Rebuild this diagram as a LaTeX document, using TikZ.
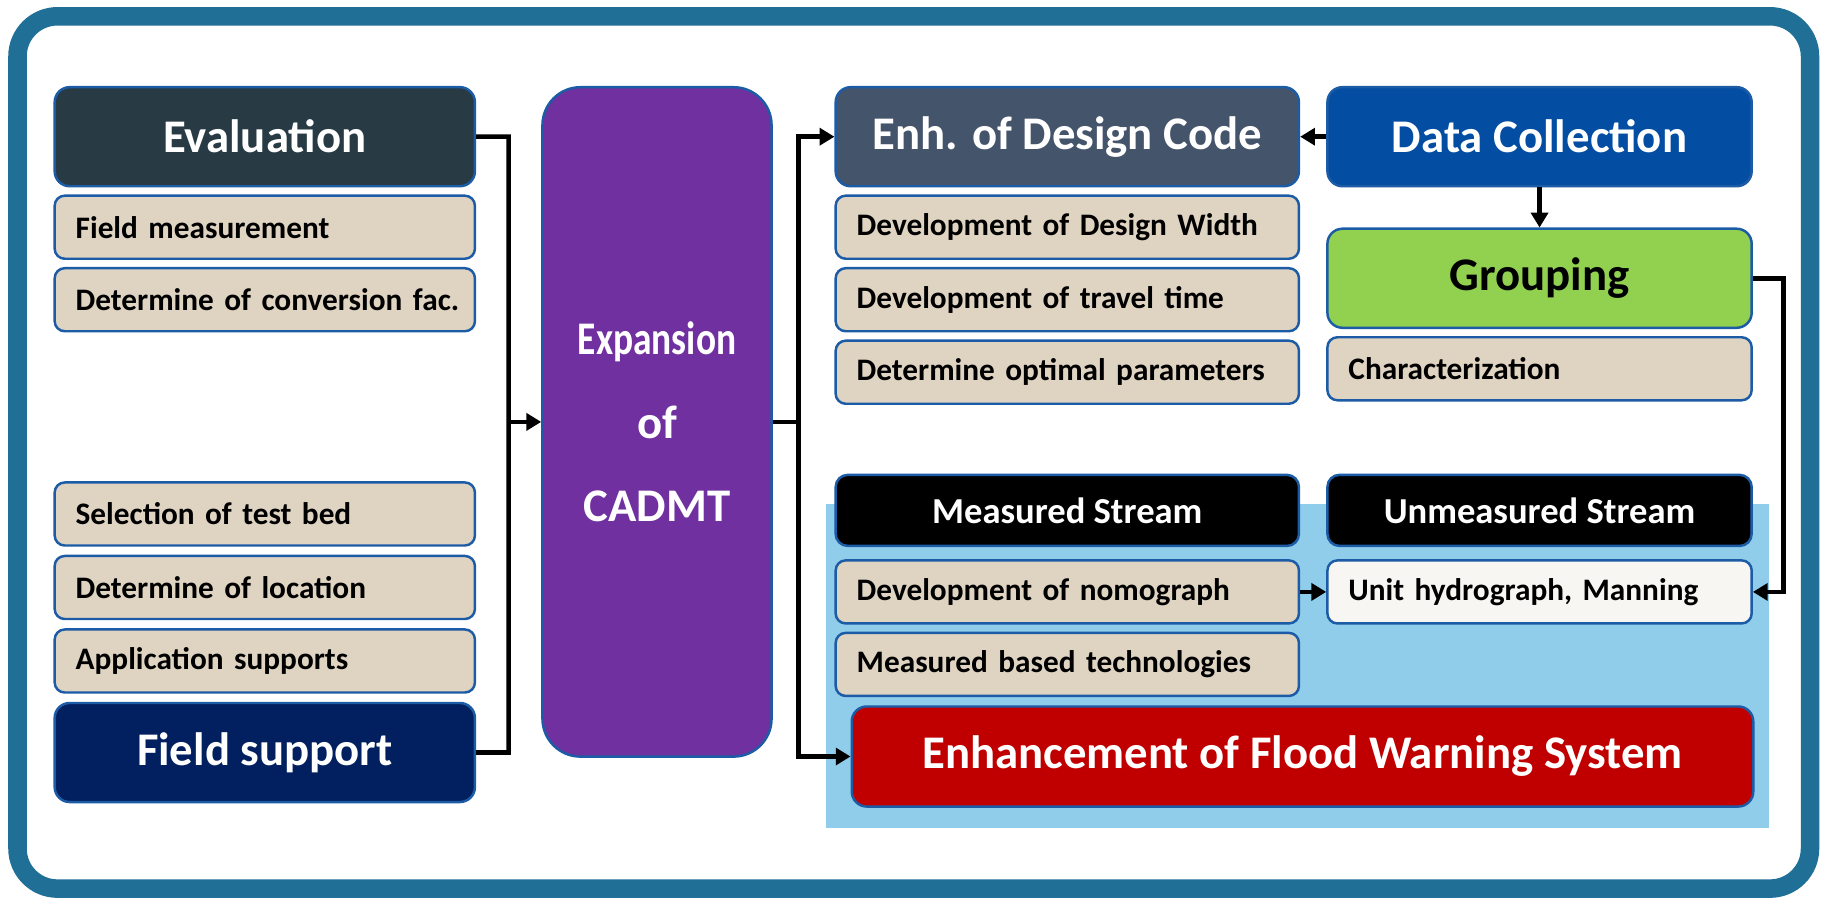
\documentclass[tikz,border=0pt]{standalone}
\usepackage{fontspec}
\setmainfont{Carlito}
\usepackage{graphicx}
\usetikzlibrary{positioning,calc,arrows.meta}

\definecolor{framecol}{HTML}{1F6F97}
\definecolor{boxline}{HTML}{1C5BA6}
\definecolor{beige}{HTML}{DFD3C2}
\definecolor{evalcol}{HTML}{283B45}
\definecolor{fieldcol}{HTML}{02205F}
\definecolor{expcol}{HTML}{7030A0}
\definecolor{designcol}{HTML}{44546A}
\definecolor{datacol}{HTML}{034EA2}
\definecolor{groupcol}{HTML}{92D050}
\definecolor{skyfill}{HTML}{8FCDEB}
\definecolor{offwhite}{HTML}{F7F6F2}
\definecolor{floodcol}{HTML}{C00000}

\begin{document}
\begin{tikzpicture}[x=0.01cm,y=-0.01cm,
  box/.style={draw=boxline,line width=0.7pt,rounded corners=0.1cm},
  hbox/.style={box,rounded corners=0.15cm,minimum height=0.99cm,text=white,font=\fontsize{13.3}{16}\selectfont\bfseries},
  ibox/.style={box,fill=beige,minimum height=0.63cm,text width=#1,inner xsep=0.1cm,align=left,
    font=\fontsize{8.9}{11}\selectfont\bfseries,execute at begin node={\hspace*{0.11cm}}},
  sbox/.style={box,rounded corners=0.12cm,fill=black,minimum height=0.71cm,text=white,font=\fontsize{10.4}{12}\selectfont\bfseries},
  conn/.style={line width=1.3pt},
  arr/.style={conn,-{Triangle[length=4.2pt,width=4.8pt]}}]
  \useasboundingbox (0,0) rectangle (1825,903);
  \draw[framecol,line width=0.185cm,rounded corners=0.4cm,fill=white] (17.5,16.3) rectangle (1810,888.6);
  \fill[skyfill] (826,504) rectangle (1769,827.5);
  %
  \node[hbox,fill=evalcol,minimum width=4.2cm] (eval) at (264.8,136.7) {Evaluation};
  \node[ibox=4cm,below=0.07cm of eval] (fmeas) {Field measurement};
  \node[ibox=4cm,below=0.07cm of fmeas] (conv) {Determine of conversion fac.};
  \node[hbox,fill=fieldcol,minimum width=4.2cm] (fsup) at (264.8,752.5) {Field support};
  \node[ibox=4cm,above=0.08cm of fsup] (appl) {Application supports};
  \node[ibox=4cm,above=0.08cm of appl] (loc) {Determine of location};
  \node[ibox=4cm,above=0.08cm of loc] (bed) {Selection of test bed};
  %
  \node[box,rounded corners=0.38cm,fill=expcol,minimum width=2.29cm,minimum height=6.69cm,text=white,align=center,font=\fontsize{13.3}{23.8}\selectfont\bfseries] (exp) at (657,421.9) {\scalebox{0.8}[1]{Expansion}\\of\\CADMT};
  %
  \node[hbox,fill=designcol,minimum width=4.63cm] (design) at (1067.3,136.7) {Enh. of Design Code};
  \node[ibox=4.43cm,below=0.07cm of design] (dwidth) {Development of Design Width};
  \node[ibox=4.43cm,below=0.07cm of dwidth] (travel) {Development of travel time};
  \node[ibox=4.43cm,below=0.07cm of travel] (optim) {Determine optimal parameters};
  \node[hbox,fill=datacol,minimum width=4.24cm,right=0.26cm of design] (data) {Data Collection};
  \node[hbox,fill=groupcol,text=black,minimum width=4.24cm,below=0.4cm of data] (group) {Grouping};
  \node[ibox=4.04cm,below=0.07cm of group] (charac) {Characterization};
  %
  \node[sbox,minimum width=4.63cm] (mstream) at (1067.3,510.4) {Measured Stream};
  \node[sbox,minimum width=4.24cm,right=0.26cm of mstream] (ustream) {Unmeasured Stream};
  \node[ibox=4.43cm,below=0.12cm of mstream] (nomo) {Development of nomograph};
  \node[ibox=4.04cm,fill=offwhite,below=0.12cm of ustream] (unit) {Unit hydrograph, Manning};
  \node[ibox=4.43cm,below=0.07cm of nomo] (mtech) {Measured based technologies};
  \node[hbox,fill=floodcol,minimum width=9.01cm,minimum height=1.0cm] (flood) at (1302.5,756.5) {Enhancement of Flood Warning System};
  %
  \coordinate (lbus) at ($(eval.east)!0.5!(eval.east -| exp.west)$);
  \coordinate (rbus) at ($(exp.east)+(25.6,0)$);
  \coordinate (gbus) at ($(group.east)+(30.3,0)$);
  \draw[conn] (eval.east) -- (lbus) |- (fsup.east);
  \draw[arr] (lbus |- exp.west) -- (exp.west);
  \draw[arr] (exp.east) -- (rbus) |- (design.west);
  \draw[arr] (rbus) |- (flood.west);
  \draw[arr] (data.west) -- (design.east);
  \draw[arr] (data) -- (group);
  \draw[arr] (group.east) -- (gbus) |- (unit.east);
  \draw[arr] (nomo) -- (unit);
\end{tikzpicture}
\end{document}
